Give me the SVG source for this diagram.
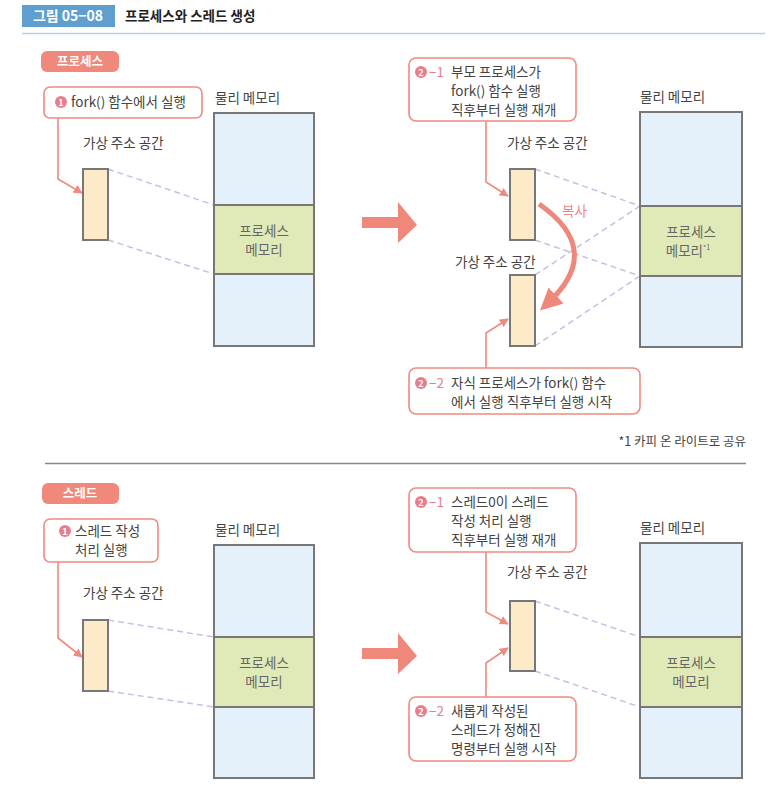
<svg xmlns="http://www.w3.org/2000/svg" width="779" height="797" viewBox="0 0 779 797">
<defs>
<style>
text{font-family:"Noto Sans CJK KR","Noto Sans",sans-serif;font-size:13.5px;fill:#444}
.mem{fill:#666;text-anchor:middle;font-size:13.5px}
.num{fill:#e87e8c}
.call{fill:#fff;stroke:#ee8a80;stroke-width:1.6}
.pill{fill:#f0887c}
.pt{fill:#fff;font-weight:bold;font-size:12.5px;text-anchor:middle}
.v{fill:#fdeac8;stroke:#777;stroke-width:2}
.pb{fill:#e4f1fa;stroke:#777;stroke-width:2}
.pg{fill:#e0eab9;stroke:#777;stroke-width:2}
.dash{stroke:#cbbde3;stroke-width:1.5;stroke-dasharray:6 4;fill:none}
.lead{stroke:#ef8a80;stroke-width:1.6;fill:none}
.big{fill:#f0877b}
.cn{fill:#fff;font-size:9px;font-weight:bold;text-anchor:middle}
</style>
<marker id="ah" viewBox="0 0 10 10" refX="9" refY="5" markerWidth="9" markerHeight="9" markerUnits="userSpaceOnUse" orient="auto"><path d="M0,0 L10,5 L0,10 z" fill="#ef8a80"/></marker>
<marker id="ahb" viewBox="0 0 10 10" refX="5" refY="5" markerWidth="4.4" markerHeight="4.4" orient="auto"><path d="M0,0 L10,5 L0,10 z" fill="#f0877b"/></marker>
</defs>
<rect width="779" height="797" fill="#fff"/>

<g id="header">
<rect x="22" y="5" width="93" height="22" fill="#5f9fd0"/>
<text x="68" y="21" text-anchor="middle" style="fill:#fff;font-weight:bold;font-size:14px">그림 05−08</text>
<text x="125" y="21" style="fill:#222;font-weight:bold;font-size:13.5px">프로세스와 스레드 생성</text>
<line x1="22" y1="33.5" x2="765" y2="33.5" stroke="#b4cde8" stroke-width="1.5"/>
</g>

<g id="connectors">
<line class="dash" x1="108" y1="169" x2="214" y2="205"/>
<line class="dash" x1="108" y1="240" x2="214" y2="274"/>
<line class="dash" x1="535" y1="169" x2="640" y2="206"/>
<line class="dash" x1="535" y1="240" x2="640" y2="276"/>
<line class="dash" x1="535" y1="275" x2="640" y2="206"/>
<line class="dash" x1="535" y1="346" x2="640" y2="276"/>
<line class="dash" x1="108" y1="620" x2="214" y2="637"/>
<line class="dash" x1="108" y1="691" x2="214" y2="707"/>
<line class="dash" x1="535" y1="601" x2="640" y2="637"/>
<line class="dash" x1="535" y1="671" x2="640" y2="707"/>
<path class="lead" d="M58,118 V179 L82,193" marker-end="url(#ah)"/>
<path class="lead" d="M486,121 V182 L508,196" marker-end="url(#ah)"/>
<path class="lead" d="M486,368 V333 L508,319" marker-end="url(#ah)"/>
<path class="lead" d="M58,562 V638 L82,657" marker-end="url(#ah)"/>
<path class="lead" d="M486,552 V612 L508,624" marker-end="url(#ah)"/>
<path class="lead" d="M486,697 V663 L508,648" marker-end="url(#ah)"/>
<path d="M539,204 Q605,250 548,303" stroke="#f0877b" stroke-width="5" fill="none" marker-end="url(#ahb)"/>
<text x="562" y="216" style="fill:#f0877b;font-size:13.5px">복사</text>
<path class="big" d="M362,217 H398 V202 L417,225 L398,243 V228 H362 z"/>
<path class="big" d="M362,648 H398 V633 L417,656 L398,674 V659 H362 z"/>
</g>

<g id="label-process">
<rect class="pill" x="41" y="51" width="78" height="21" rx="6"/>
<text class="pt" x="80" y="66">프로세스</text>
</g>

<g id="callout-fork">
<rect class="call" x="44" y="87" width="158" height="31" rx="6"/>
<circle cx="61" cy="102" r="6" fill="#e87e8c"/>
<text class="cn" x="61" y="105.5">1</text>
<text x="71" y="107">fork() 함수에서 실행</text>
</g>

<g id="vas-1">
<text x="83" y="148">가상 주소 공간</text>
<rect class="v" x="83" y="169" width="25" height="71"/>
</g>

<g id="phys-1">
<text x="215" y="103">물리 메모리</text>
<rect class="pb" x="214" y="113" width="100" height="233"/>
<rect class="pg" x="214" y="205" width="100" height="69"/>
<text class="mem" x="264" y="235.5">프로세스</text>
<text class="mem" x="264" y="254.5">메모리</text>
</g>

<g id="callout-2-1-p">
<rect class="call" x="409" y="58" width="167" height="63" rx="7"/>
<circle cx="421" cy="72" r="6" fill="#e87e8c"/>
<text class="cn" x="421" y="75.5">2</text>
<text x="429" y="77" class="num">−1</text>
<text x="451" y="77">부모 프로세스가</text>
<text x="451" y="96">fork() 함수 실행</text>
<text x="451" y="115">직후부터 실행 재개</text>
</g>

<g id="vas-parent">
<text x="507" y="148">가상 주소 공간</text>
<rect class="v" x="510" y="169" width="25" height="71"/>
</g>

<g id="vas-child">
<text x="455" y="267">가상 주소 공간</text>
<rect class="v" x="510" y="275" width="25" height="71"/>
</g>

<g id="callout-2-2-p">
<rect class="call" x="409" y="368" width="231" height="46" rx="7"/>
<circle cx="421" cy="383" r="6" fill="#e87e8c"/>
<text class="cn" x="421" y="386.5">2</text>
<text x="429" y="388" class="num">−2</text>
<text x="451" y="388">자식 프로세스가 fork() 함수</text>
<text x="451" y="407">에서 실행 직후부터 실행 시작</text>
</g>

<g id="phys-2">
<text x="640" y="102">물리 메모리</text>
<rect class="pb" x="640" y="112" width="102" height="235"/>
<rect class="pg" x="640" y="206" width="102" height="70"/>
<text class="mem" x="691" y="236.5">프로세스</text>
<text class="mem" x="688" y="255.5">메모리<tspan style="font-size:7px" dy="-6">*1</tspan></text>
</g>

<g id="footnote">
<text x="746" y="446" text-anchor="end" style="font-size:12.5px">*1 카피 온 라이트로 공유</text>
<line x1="45" y1="463.5" x2="746" y2="463.5" stroke="#888" stroke-width="1.5"/>
</g>

<g id="label-thread">
<rect class="pill" x="42" y="483" width="77" height="21" rx="6"/>
<text class="pt" x="80" y="498">스레드</text>
</g>

<g id="callout-thread">
<rect class="call" x="44" y="519" width="114" height="43" rx="6"/>
<circle cx="65" cy="531" r="6" fill="#e87e8c"/>
<text class="cn" x="65" y="534.5">1</text>
<text x="75" y="536">스레드 작성</text>
<text x="75" y="555">처리 실행</text>
</g>

<g id="vas-3">
<text x="83" y="598">가상 주소 공간</text>
<rect class="v" x="83" y="620" width="25" height="71"/>
</g>

<g id="phys-3">
<text x="215" y="535">물리 메모리</text>
<rect class="pb" x="214" y="545" width="100" height="233"/>
<rect class="pg" x="214" y="637" width="100" height="70"/>
<text class="mem" x="264" y="667.5">프로세스</text>
<text class="mem" x="264" y="686.5">메모리</text>
</g>

<g id="callout-2-1-t">
<rect class="call" x="409" y="488" width="167" height="64" rx="7"/>
<circle cx="421" cy="502" r="6" fill="#e87e8c"/>
<text class="cn" x="421" y="505.5">2</text>
<text x="429" y="507" class="num">−1</text>
<text x="451" y="507">스레드0이 스레드</text>
<text x="451" y="526">작성 처리 실행</text>
<text x="451" y="545">직후부터 실행 재개</text>
</g>

<g id="vas-4">
<text x="507" y="577">가상 주소 공간</text>
<rect class="v" x="510" y="601" width="25" height="70"/>
</g>

<g id="callout-2-2-t">
<rect class="call" x="409" y="697" width="167" height="64" rx="7"/>
<circle cx="421" cy="711" r="6" fill="#e87e8c"/>
<text class="cn" x="421" y="714.5">2</text>
<text x="429" y="716" class="num">−2</text>
<text x="451" y="716">새롭게 작성된</text>
<text x="451" y="735">스레드가 정해진</text>
<text x="451" y="754">명령부터 실행 시작</text>
</g>

<g id="phys-4">
<text x="640" y="533">물리 메모리</text>
<rect class="pb" x="640" y="543" width="102" height="235"/>
<rect class="pg" x="640" y="637" width="102" height="70"/>
<text class="mem" x="691" y="667.5">프로세스</text>
<text class="mem" x="691" y="686.5">메모리</text>
</g>
</svg>
